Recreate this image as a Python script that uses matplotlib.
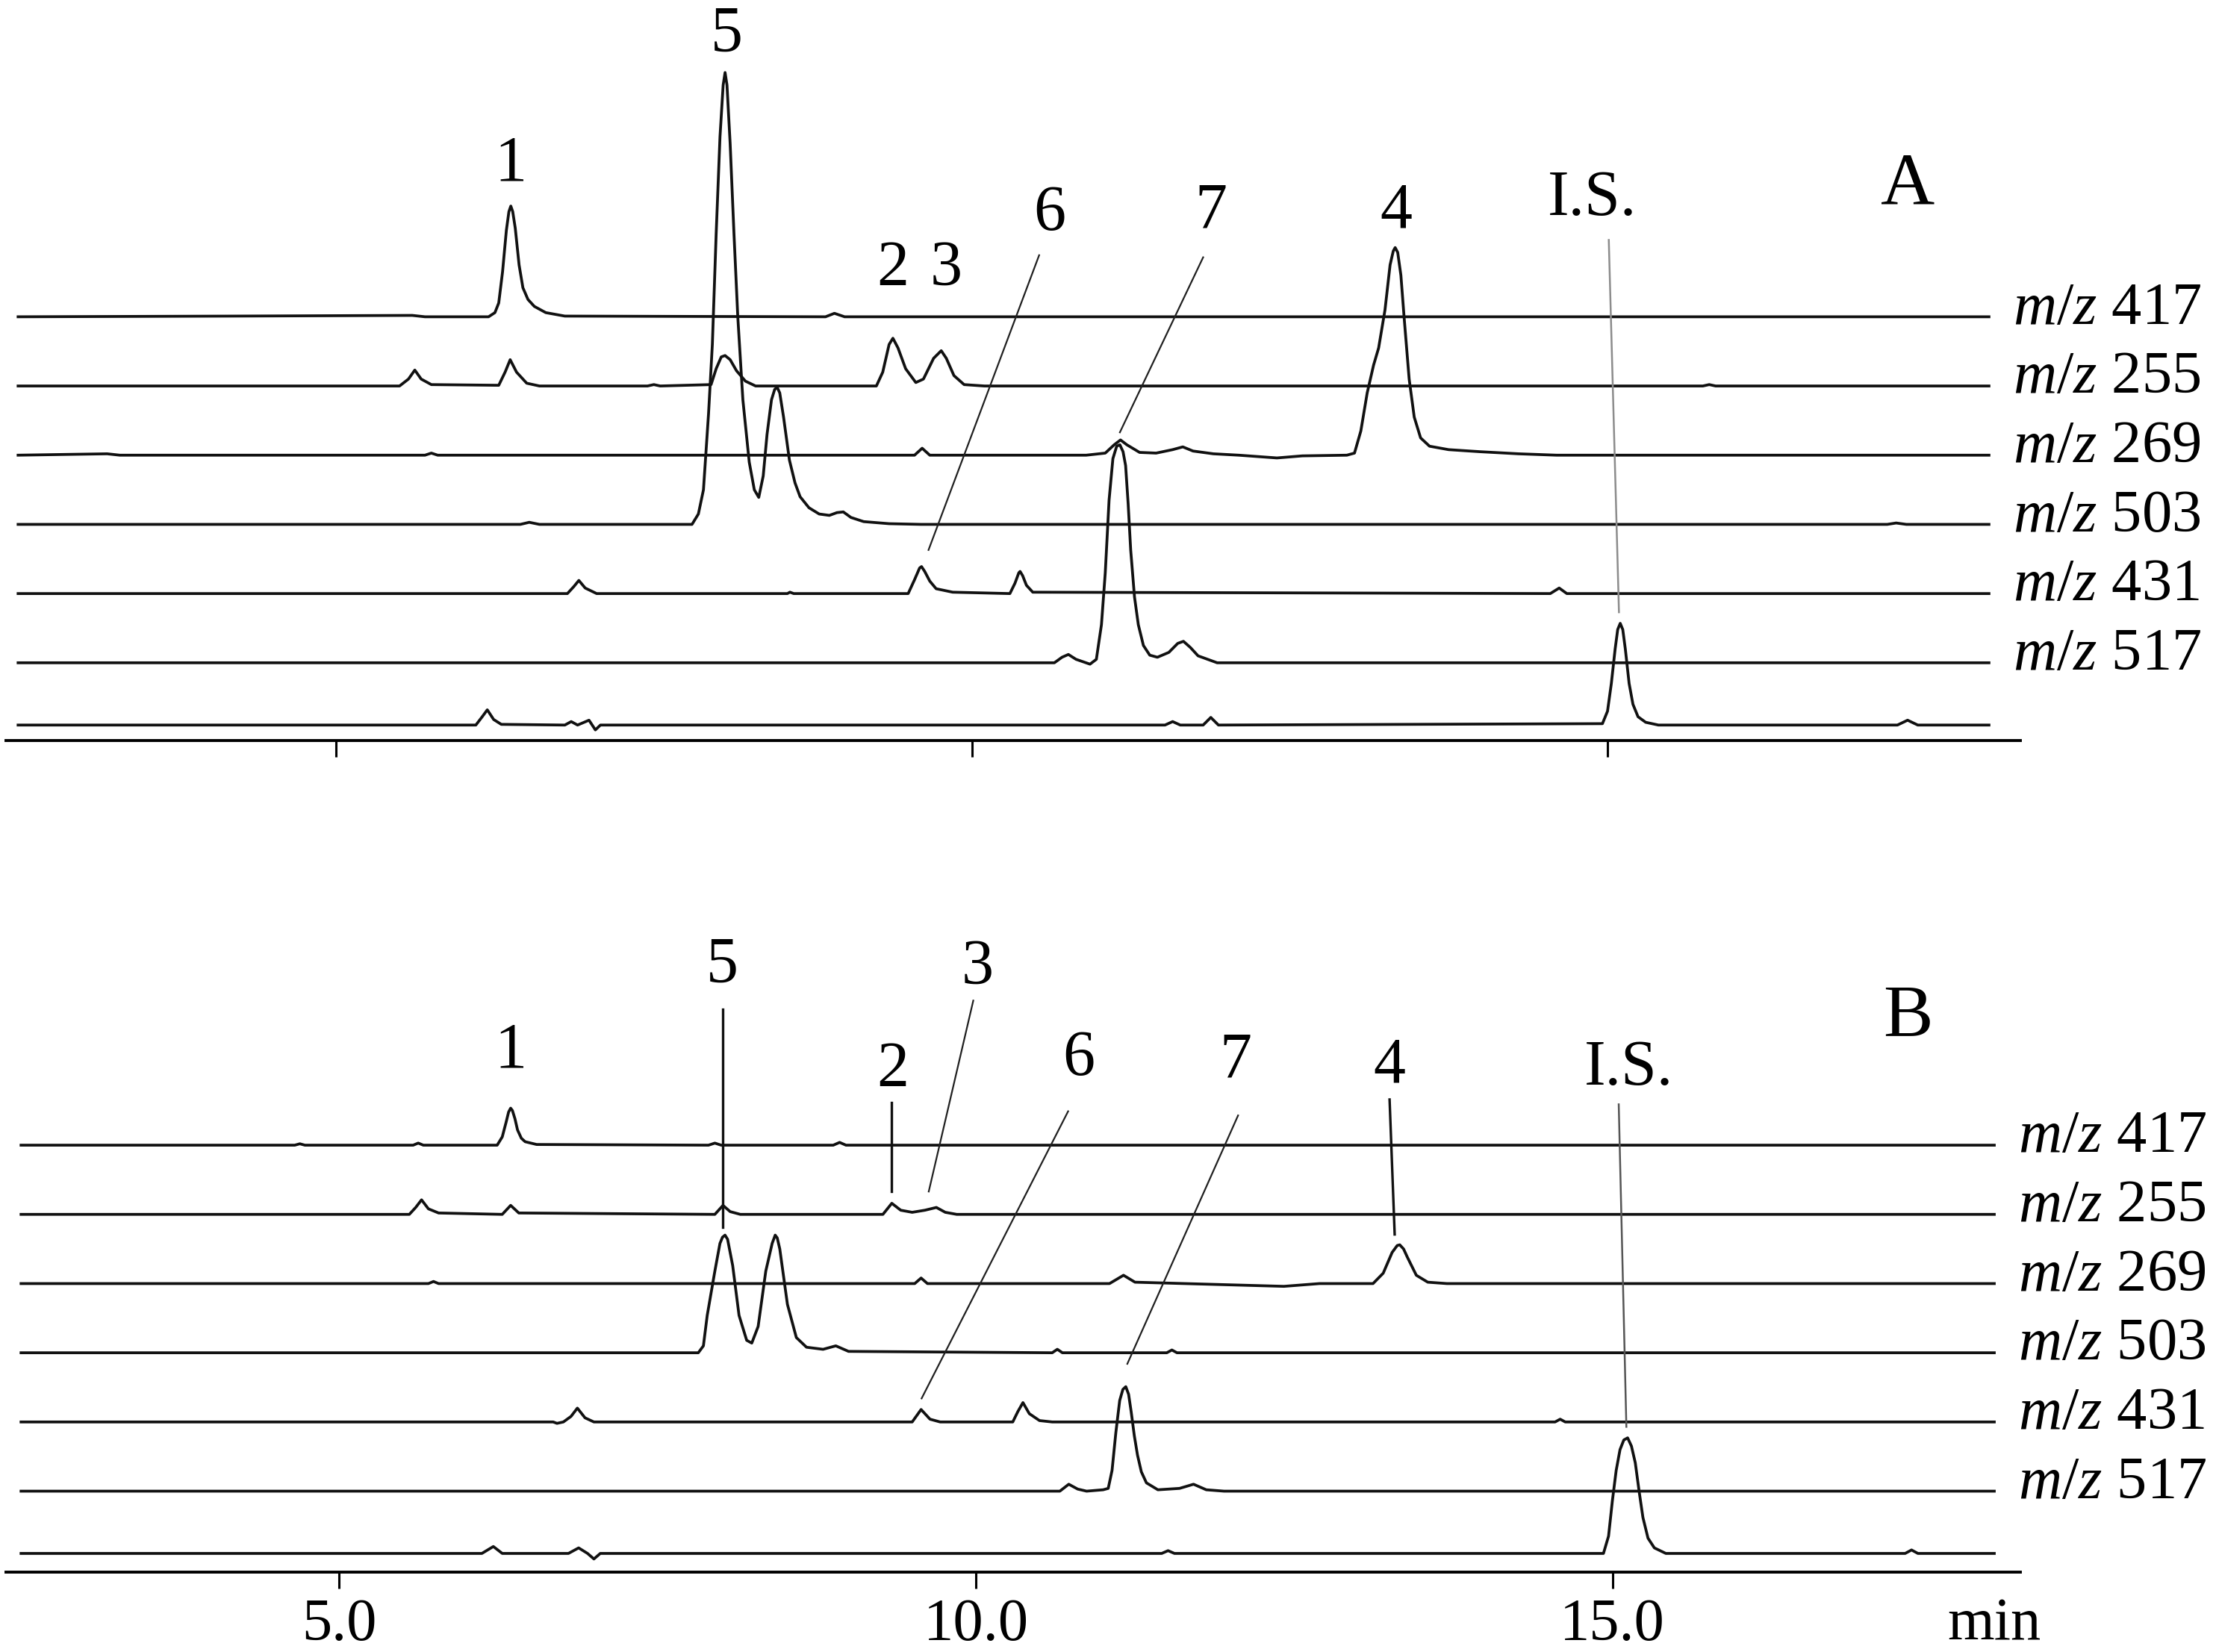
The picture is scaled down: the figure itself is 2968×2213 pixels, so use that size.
import matplotlib.pyplot as plt

plt.rcParams['font.family'] = ['Liberation Serif', 'DejaVu Serif']
plt.rcParams['mathtext.fontset'] = 'custom'
plt.rcParams['mathtext.it'] = 'Liberation Serif:italic'
plt.rcParams['mathtext.rm'] = 'Liberation Serif'

# trace labels, top to bottom (bottom trace has no label)
mz_labels = ['417', '255', '269', '503', '431', '517', None]
offsets = [5.9, 4.9, 3.9, 2.9, 1.9, 0.9, 0.0]

# ---- panel A traces: (time in min, height above own baseline) ----
a_417 = [(2.5, 0), (4.2, 0.01), (5.6, 0.02), (5.7, 0), (6.20, 0), (6.25, 0.06), (6.28, 0.2),
         (6.31, 0.65), (6.34, 1.25), (6.36, 1.52), (6.375, 1.60), (6.39, 1.52), (6.41, 1.28),
         (6.44, 0.75), (6.47, 0.42), (6.51, 0.25), (6.56, 0.15), (6.65, 0.06), (6.8, 0.01),
         (8.85, 0), (8.92, 0.05), (9.0, 0), (18.0, 0)]
a_255 = [(2.5, 0), (5.50, 0), (5.57, 0.10), (5.62, 0.23), (5.67, 0.10), (5.75, 0.02), (6.28, 0.01),
         (6.33, 0.2), (6.37, 0.38), (6.42, 0.2), (6.50, 0.04), (6.6, 0), (7.45, 0), (7.5, 0.02),
         (7.55, 0), (7.95, 0.02), (7.99, 0.25), (8.03, 0.42), (8.06, 0.44), (8.10, 0.38),
         (8.15, 0.22), (8.22, 0.07), (8.30, 0), (9.25, 0), (9.30, 0.2), (9.35, 0.6), (9.38, 0.69),
         (9.42, 0.55), (9.48, 0.25), (9.56, 0.05), (9.62, 0.1), (9.70, 0.4), (9.76, 0.51),
         (9.80, 0.4), (9.86, 0.15), (9.94, 0.02), (10.1, 0), (15.75, 0), (15.8, 0.02), (15.85, 0),
         (18.0, 0)]
a_269 = [(2.5, 0), (3.2, 0.02), (3.3, 0), (5.7, 0), (5.75, 0.03), (5.8, 0), (9.55, 0), (9.61, 0.10),
         (9.67, 0), (10.9, 0), (11.05, 0.03), (11.12, 0.15), (11.17, 0.22), (11.22, 0.15),
         (11.32, 0.04), (11.45, 0.03), (11.58, 0.08), (11.66, 0.12), (11.74, 0.06), (11.9, 0.02),
         (12.1, 0), (12.4, -0.04), (12.6, -0.01), (12.95, 0), (13.01, 0.03), (13.06, 0.35),
         (13.11, 0.9), (13.16, 1.3), (13.20, 1.55), (13.25, 2.1), (13.29, 2.75), (13.315, 2.95),
         (13.33, 3.0), (13.35, 2.93), (13.375, 2.6), (13.40, 2.0), (13.44, 1.1), (13.48, 0.55),
         (13.53, 0.25), (13.6, 0.13), (13.75, 0.08), (14.0, 0.05), (14.3, 0.02), (14.6, 0),
         (18.0, 0)]
a_503 = [(2.5, 0), (6.45, 0), (6.52, 0.03), (6.6, 0), (7.80, 0), (7.85, 0.15), (7.89, 0.5),
         (7.93, 1.6), (7.96, 2.6), (7.99, 4.2), (8.02, 5.6), (8.045, 6.35), (8.06, 6.53),
         (8.075, 6.35), (8.10, 5.5), (8.13, 4.2), (8.16, 3.0), (8.20, 1.8), (8.25, 0.9),
         (8.29, 0.5), (8.325, 0.39), (8.36, 0.7), (8.39, 1.3), (8.425, 1.80), (8.45, 1.95),
         (8.47, 1.98), (8.49, 1.90), (8.52, 1.55), (8.566, 0.93), (8.61, 0.6), (8.65, 0.4),
         (8.72, 0.24), (8.80, 0.15), (8.88, 0.13), (8.94, 0.17), (8.99, 0.18), (9.05, 0.1),
         (9.15, 0.04), (9.35, 0.01), (9.6, 0), (17.2, 0), (17.27, 0.02), (17.35, 0), (18.0, 0)]
a_431 = [(2.5, 0), (6.82, 0), (6.87, 0.1), (6.91, 0.19), (6.96, 0.08), (7.05, 0), (8.55, 0),
         (8.57, 0.02), (8.6, 0), (9.50, 0), (9.55, 0.2), (9.59, 0.37), (9.605, 0.39), (9.63, 0.32),
         (9.67, 0.18), (9.72, 0.07), (9.85, 0.02), (10.30, 0), (10.34, 0.15), (10.37, 0.30),
         (10.38, 0.32), (10.40, 0.26), (10.43, 0.12), (10.48, 0.02), (14.55, 0), (14.62, 0.08),
         (14.68, 0), (18.0, 0)]
a_517 = [(2.5, 0), (10.65, 0), (10.71, 0.08), (10.76, 0.12), (10.82, 0.05), (10.93, -0.02),
         (10.98, 0.05), (11.02, 0.55), (11.05, 1.3), (11.08, 2.35), (11.11, 2.95), (11.14, 3.13),
         (11.165, 3.15), (11.19, 3.05), (11.21, 2.85), (11.23, 2.3), (11.25, 1.63), (11.28, 0.95),
         (11.31, 0.55), (11.35, 0.25), (11.40, 0.11), (11.46, 0.08), (11.55, 0.15), (11.62, 0.28),
         (11.665, 0.31), (11.72, 0.22), (11.78, 0.1), (11.93, 0), (18.0, 0)]
a_bottom = [(2.5, 0), (6.10, 0), (6.15, 0.12), (6.19, 0.22), (6.24, 0.08), (6.30, 0.01), (6.8, 0),
            (6.85, 0.05), (6.9, 0), (6.99, 0.07), (7.04, -0.07), (7.08, 0), (11.52, 0),
            (11.58, 0.05), (11.64, 0), (11.82, 0), (11.88, 0.11), (11.94, 0), (14.96, 0.02),
            (15.00, 0.2), (15.03, 0.6), (15.06, 1.1), (15.08, 1.38), (15.10, 1.47), (15.12, 1.38),
            (15.14, 1.1), (15.17, 0.6), (15.20, 0.3), (15.24, 0.12), (15.3, 0.04), (15.4, 0),
            (17.28, 0), (17.36, 0.07), (17.44, 0), (18.0, 0)]

# ---- panel B traces ----
b_417 = [(2.5, 0), (4.65, 0), (4.69, 0.02), (4.73, 0), (5.58, 0), (5.62, 0.03), (5.66, 0),
         (6.24, 0), (6.28, 0.12), (6.31, 0.33), (6.33, 0.48), (6.346, 0.535), (6.36, 0.50),
         (6.38, 0.38), (6.40, 0.22), (6.43, 0.1), (6.46, 0.05), (6.55, 0.01), (7.9, 0),
         (7.95, 0.03), (8.0, 0), (8.88, 0), (8.93, 0.04), (8.98, 0), (18.0, 0)]
b_255 = [(2.5, 0), (5.55, 0), (5.60, 0.1), (5.646, 0.21), (5.70, 0.08), (5.78, 0.02), (6.28, 0),
         (6.346, 0.13), (6.41, 0.02), (7.95, 0), (8.014, 0.13), (8.07, 0.04), (8.15, 0),
         (9.27, 0), (9.34, 0.16), (9.41, 0.06), (9.5, 0.03), (9.60, 0.06), (9.69, 0.10),
         (9.76, 0.03), (9.85, 0), (18.0, 0)]
b_269 = [(2.5, 0), (5.70, 0), (5.74, 0.03), (5.78, 0), (9.52, 0), (9.57, 0.08), (9.62, 0),
         (11.05, 0), (11.16, 0.12), (11.25, 0.02), (12.42, -0.04), (12.7, 0), (13.12, 0),
         (13.2, 0.15), (13.27, 0.45), (13.31, 0.55), (13.33, 0.56), (13.36, 0.50), (13.39, 0.38),
         (13.46, 0.12), (13.55, 0.02), (13.7, 0), (18.0, 0)]
b_503 = [(2.5, 0), (7.82, 0), (7.86, 0.1), (7.89, 0.54), (7.95, 1.18), (7.99, 1.58), (8.01, 1.67),
         (8.03, 1.70), (8.05, 1.64), (8.09, 1.26), (8.14, 0.54), (8.20, 0.18), (8.24, 0.14),
         (8.29, 0.38), (8.35, 1.18), (8.40, 1.58), (8.424, 1.70), (8.44, 1.66), (8.46, 1.50),
         (8.52, 0.70), (8.59, 0.22), (8.67, 0.08), (8.8, 0.05), (8.90, 0.1), (9.0, 0.02),
         (10.6, 0), (10.64, 0.05), (10.68, 0), (11.5, 0), (11.54, 0.04), (11.58, 0), (18.0, 0)]
b_431 = [(2.5, 0), (6.68, 0), (6.71, -0.02), (6.76, 0), (6.82, 0.08), (6.87, 0.20), (6.93, 0.06),
         (7.0, 0), (9.50, 0), (9.57, 0.18), (9.64, 0.04), (9.72, 0), (10.29, 0), (10.33, 0.15),
         (10.37, 0.28), (10.42, 0.12), (10.5, 0.02), (10.6, 0), (14.55, 0), (14.59, 0.04),
         (14.63, 0), (18.0, 0)]
b_517 = [(2.5, 0), (10.66, 0), (10.73, 0.10), (10.80, 0.03), (10.87, 0), (11.0, 0.02),
         (11.04, 0.04), (11.07, 0.3), (11.10, 0.85), (11.13, 1.31), (11.155, 1.47), (11.178, 1.51),
         (11.20, 1.40), (11.22, 1.15), (11.245, 0.8), (11.27, 0.52), (11.30, 0.28), (11.34, 0.12),
         (11.43, 0.02), (11.6, 0.04), (11.71, 0.10), (11.81, 0.02), (11.95, 0), (18.0, 0)]
b_bottom = [(2.5, 0), (6.12, 0), (6.21, 0.10), (6.28, 0), (6.80, 0), (6.88, 0.08), (6.95, 0),
            (7.0, -0.08), (7.05, 0), (11.46, 0), (11.51, 0.04), (11.56, 0), (14.93, 0),
            (14.97, 0.25), (15.00, 0.76), (15.03, 1.2), (15.06, 1.5), (15.09, 1.64), (15.12, 1.67),
            (15.15, 1.55), (15.18, 1.31), (15.21, 0.9), (15.24, 0.52), (15.28, 0.22),
            (15.33, 0.08), (15.42, 0), (17.30, 0), (17.35, 0.05), (17.40, 0), (18.0, 0)]

traces_a = [a_417, a_255, a_269, a_503, a_431, a_517, a_bottom]
traces_b = [b_417, b_255, b_269, b_503, b_431, b_517, b_bottom]

# peak labels: text, x, baseline y
a_peaks = ['1', '5', '2', '3', '6', '7', '4', 'I.S.']
a_peak_x = [6.375, 8.07, 9.38, 9.80, 10.61, 11.88, 13.34, 14.88]
a_peak_y = [7.87, 9.75, 6.36, 6.36, 7.16, 7.19, 7.19, 7.37]
# leader lines: x0, y0, x1, y1, heavy?
a_leaders = [(10.53, 6.79, 9.66, 2.53, False), (11.82, 6.76, 11.165, 4.23, False)]
a_is_line = (15.01, 7.01, 15.09, 1.63)

b_peaks = ['1', '5', '2', '3', '6', '7', '4', 'I.S.']
b_peak_x = [6.346, 8.01, 9.35, 10.01, 10.81, 12.04, 13.25, 15.13]
b_peak_y = [7.03, 8.27, 6.75, 8.23, 6.91, 6.89, 6.81, 6.77]
b_leaders = [(8.01, 7.86, 8.01, 4.71, True), (9.34, 6.52, 9.34, 5.23, True),
             (9.98, 7.99, 9.63, 5.23, False), (10.725, 6.39, 9.574, 2.24, False),
             (12.06, 6.33, 11.19, 2.74, False), (13.25, 6.56, 13.29, 4.61, True)]
b_is_line = (15.05, 6.49, 15.11, 1.83)

ticks = [5.0, 10.0, 15.0]
tick_labels = ['5.0', '10.0', '15.0']

W, H = 2968, 2213
fig = plt.figure(figsize=(W / 100, H / 100), dpi=100)

axA = fig.add_axes([8.4 / W, (H - 992.4) / H, (2706 - 8.4) / W, 992.4 / H])
axB = fig.add_axes([8.4 / W, (H - 2105.8) / H, (2706 - 8.4) / W, (2105.8 - 1200) / H])
axA.set_xlim(2.407, 18.247)
axA.set_ylim(-0.228, 10.478)
axB.set_xlim(2.384, 18.205)
axB.set_ylim(-0.268, 9.504)


def draw_panel(ax, traces, peaks, px, py, leaders, is_line, is_color, panel_letter, letter_xy):
    for tr, off, lab in zip(traces, offsets, mz_labels):
        t = [p[0] for p in tr]
        h = [p[1] + off for p in tr]
        ax.plot(t, h, color='#111111', lw=2.7, solid_joinstyle='round')
        if lab is not None:
            ax.text(18.19, off - 0.1, '$m/z$ ' + lab, fontsize=58, ha='left', va='baseline',
                    clip_on=False)
    for s, x, y in zip(peaks, px, py):
        ax.text(x, y, s, fontsize=62, ha='center', va='baseline', clip_on=False)
    for x0, y0, x1, y1, heavy in leaders:
        ax.plot([x0, x1], [y0, y1], color='#111111' if heavy else '#202020',
                lw=2.4 if heavy else 1.6)
    x0, y0, x1, y1 = is_line
    ax.plot([x0, x1], [y0, y1], color=is_color, lw=1.8)
    ax.text(letter_xy[0], letter_xy[1], panel_letter, fontsize=72, ha='center', va='baseline')

    for sp in ['top', 'right', 'left']:
        ax.spines[sp].set_visible(False)
    ax.spines['bottom'].set_linewidth(2.8)
    ax.set_yticks([])
    ax.tick_params(axis='x', direction='out', length=16, width=2.2, pad=9, labelsize=58)


draw_panel(axA, traces_a, a_peaks, a_peak_x, a_peak_y, a_leaders, a_is_line, '#8c8c8c',
           'A', (17.36, 7.53))
draw_panel(axB, traces_b, b_peaks, b_peak_x, b_peak_y, b_leaders, b_is_line, '#555555',
           'B', (17.32, 7.49))

axA.set_xticks(ticks)
axA.set_xticklabels([])
axB.set_xticks(ticks + [18.0])
axB.set_xticklabels(tick_labels + ['min'])
axB.get_xaxis().get_major_ticks()[3].tick1line.set_visible(False)

fig.savefig('out.png', dpi=100, facecolor='white')
